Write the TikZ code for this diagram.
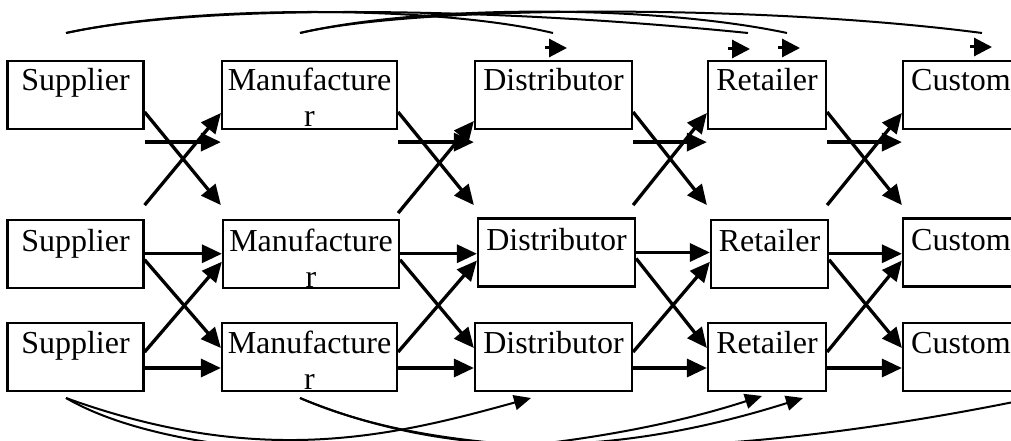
\documentclass[tikz,border=0pt]{standalone}
\usepackage{fontspec}
\setmainfont{Liberation Serif}
\usetikzlibrary{arrows.meta,calc}
\begin{document}
\begin{tikzpicture}[x=1pt,y=-1pt,
  box/.style={draw, line width=2.2pt, rectangle, inner sep=0pt, minimum height=68pt},
  lbl/.style={inner sep=0pt, anchor=base, font=\fontsize{32pt}{36pt}\selectfont},
  flow/.style={line width=3.3pt, -{Triangle[length=20pt,width=18pt]}},
  bendline/.style={line width=2pt},
  bendarrow/.style={line width=2pt, -{Triangle[length=17pt,width=15pt]}},
  tickarrow/.style={line width=3pt, -{Triangle[length=18pt,width=18pt]}}]
\useasboundingbox (0,0) rectangle (1011,441);
\clip (0,0) rectangle (1011,441);

% ---- boxes ----
\node[box, minimum width=136pt] (s1) at (75.5,95) {};
\node[box, minimum width=175pt] (m1) at (309.5,95) {};
\node[box, minimum width=157pt] (d1) at (553.5,95) {};
\node[box, minimum width=118pt] (r1) at (767,95) {};
\node[box, minimum width=142pt] (c1) at (974,95) {};

\node[box, minimum width=136pt] (s2) at (75.5,253.75) {};
\node[box, minimum width=176pt] (m2) at (311,253.75) {};
\node[box, minimum width=157pt] (d2) at (556.5,252.5) {};
\node[box, minimum width=117pt] (r2) at (769.5,253.75) {};
\node[box, minimum width=142pt] (c2) at (974,252.5) {};

\node[box, minimum width=136pt] (s3) at (75.5,357) {};
\node[box, minimum width=175pt] (m3) at (309.5,357) {};
\node[box, minimum width=157pt] (d3) at (553.5,357) {};
\node[box, minimum width=118pt] (r3) at (767,357) {};
\node[box, minimum width=142pt] (c3) at (974,357) {};

% ---- texts ----
\node[lbl] (s1t) at (75.5,91) {Supplier};
\node[lbl] (m1t) at (309.5,91) {Manufacture};
\node[lbl] (m1r) at (309.5,127) {r};
\node[lbl] (d1t) at (553.5,91) {Distributor};
\node[lbl] (r1t) at (767,91) {Retailer};
\node[lbl, anchor=base west] (c1t) at (911,91) {Custom};

\node[lbl] (s2t) at (75.5,251) {Supplier};
\node[lbl] (m2t) at (311,251) {Manufacture};
\node[lbl] (m2r) at (311,287) {r};
\node[lbl] (d2t) at (556.5,250) {Distributor};
\node[lbl] (r2t) at (769.5,251) {Retailer};
\node[lbl, anchor=base west] (c2t) at (911,250) {Custom};

\node[lbl] (s3t) at (75.5,353) {Supplier};
\node[lbl] (m3t) at (309.5,353) {Manufacture};
\node[lbl] (m3r) at (309.5,389) {r};
\node[lbl] (d3t) at (553.5,353) {Distributor};
\node[lbl] (r3t) at (767,353) {Retailer};
\node[lbl, anchor=base west] (c3t) at (911,353) {Custom};

% ---- arrows between columns ----
\foreach \a/\b/\u in {s/m/75, m/d/83, d/r/75, r/c/75} {
  % top band
  \draw[flow] ($(\a1.south east)+(0,12)$) -- ($(\b1.south west)+(0,12)$);
  \draw[flow] ($(\a1.east)+(0,17)$) -- ($(\b1.south west)+(0,75)$);
  \draw[flow] ($(\a1.south east)+(0,\u)$) -- ($(\b1.west)+(0,\u-57)$);
  % rows 2 and 3
  \draw[flow] (\a2.east) -- (\a2.east -| \b2.west);
  \draw[flow] ($(\a2.east)+(0,6)$) -- ($(\b3.west)+(0,-9)$);
  \draw[flow] ($(\a3.east)+(0,-5)$) -- ($(\b2.west)+(0,8)$);
  \draw[flow] ($(\a3.east)+(0,11)$) -- ($(\b3.west)+(0,11)$);
}

% ---- top curves ----
\coordinate (ts) at (66,33);
\coordinate (tm) at (300,33);
\coordinate (tdE) at (553,33);
\coordinate (trA) at (748,33);
\coordinate (trB) at (787,33);
\coordinate (tcE) at (982,33);
\draw[bendline] (ts) .. controls (200,4) and (440,6) .. (tdE);
\draw[bendline] (ts) .. controls (200,4) and (480,6) .. (trA);
\draw[bendline] (tm) .. controls (420,5) and (650,4) .. (trB);
\draw[bendline] (tm) .. controls (420,5) and (760,4) .. (tcE);

% detached arrow heads above the top row
\coordinate (k1s) at (545,48);  \coordinate (k1e) at (567,48);
\coordinate (k2s) at (728,49);  \coordinate (k2e) at (750,49);
\coordinate (k3s) at (778,48);  \coordinate (k3e) at (800,48);
\coordinate (k4s) at (970,47);  \coordinate (k4e) at (992,47);
\draw[tickarrow] (k1s) -- (k1e);
\draw[tickarrow] (k2s) -- (k2e);
\draw[tickarrow] (k3s) -- (k3e);
\draw[tickarrow] (k4s) -- (k4e);

% ---- bottom curves ----
\coordinate (bs) at (66,398);
\coordinate (bm) at (300,398);
\coordinate (bdE) at (531,398);
\coordinate (brA) at (762,396);
\coordinate (brB) at (803,398);
\coordinate (bcE) at (1080,388);
\draw[bendarrow] (bs) .. controls (260,468) and (390,437) .. (bdE);
\draw[bendarrow] (bs) .. controls (200,476) and (540,468) .. (brA);
\draw[bendarrow] (bm) .. controls (440,456) and (600,462) .. (brB);
\draw[bendarrow] (bm) .. controls (460,468) and (740,462) .. (bcE);
\end{tikzpicture}
\end{document}
